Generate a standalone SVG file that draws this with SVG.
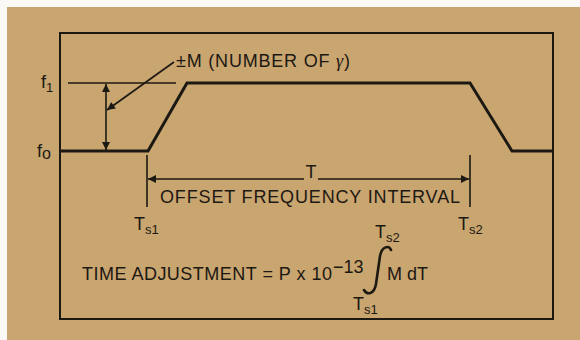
<svg xmlns="http://www.w3.org/2000/svg" width="580" height="340" viewBox="0 0 580 340">
  <defs>
    <style>
      .t { font-family: "Liberation Sans", Arial, sans-serif; fill: #1c1812; font-size: 18px; }
      .sub { font-size: 13px; }
      .thin { stroke: #1c1812; stroke-width: 1.6; fill: none; }
      .thick { stroke: #1c1812; stroke-width: 3; fill: none; stroke-linejoin: miter; }
    </style>
    <marker id="ah2" viewBox="0 0 10 10" refX="10" refY="5" markerWidth="14" markerHeight="8" markerUnits="userSpaceOnUse" orient="auto-start-reverse">
      <path d="M0,0 L10,5 L0,10 z" fill="#1c1812"/>
    </marker>
  </defs>
  <rect x="0" y="0" width="580" height="340" fill="#fbf9f6"/>
  <rect x="7" y="7" width="573" height="333" fill="#c9a570"/>

  <g id="frame">
    <rect x="60" y="33" width="493" height="286" fill="none" stroke="#1c1812" stroke-width="2"/>
  </g>

  <g id="signal">
    <line class="thin" x1="68" y1="83" x2="176" y2="83"/>
    <polyline class="thick" points="60,151 148,151 187,83 470,83 512,151 553,151"/>
  </g>

  <g id="connectors">
    <line class="thin" x1="106" y1="84" x2="106" y2="150" marker-start="url(#ah2)" marker-end="url(#ah2)"/>
    <line class="thin" x1="174" y1="62" x2="107" y2="110" marker-end="url(#ah2)"/>
    <line class="thin" x1="147" y1="155" x2="147" y2="207"/>
    <line class="thin" x1="470" y1="155" x2="470" y2="207"/>
    <line class="thin" x1="148" y1="179" x2="304" y2="179" marker-start="url(#ah2)"/>
    <line class="thin" x1="318" y1="179" x2="469" y2="179" marker-end="url(#ah2)"/>
  </g>

  <g id="labels">
    <text class="t" x="41" y="88">f<tspan class="sub" dy="4">1</tspan></text>
    <text class="t" x="37" y="157">f<tspan font-size="16" dy="2">o</tspan></text>
    <text class="t" x="176" y="67" textLength="174" lengthAdjust="spacing">±M (NUMBER OF <tspan font-family="Liberation Serif, serif" font-style="italic">γ</tspan>)</text>
    <text class="t" x="311" y="178" text-anchor="middle">T</text>
    <text class="t" x="160" y="203" textLength="300" lengthAdjust="spacing">OFFSET FREQUENCY INTERVAL</text>
    <text class="t" x="134" y="230">T<tspan class="sub" dy="4">s1</tspan></text>
    <text class="t" x="458" y="230">T<tspan class="sub" dy="4">s2</tspan></text>
  </g>

  <g id="formula">
    <text class="t" x="82" y="280" textLength="250" lengthAdjust="spacing">TIME ADJUSTMENT = P x 10</text>
    <text class="t" x="333" y="273" font-size="15">−13</text>
    <path d="M 391,250 C 389,245 382,246 380,256 L 376,284 C 374,295 367,295 364,290" fill="none" stroke="#1c1812" stroke-width="2.6" stroke-linecap="round"/>
    <text class="t" x="387" y="280">M dT</text>
    <text class="t" x="375" y="238">T<tspan class="sub" dy="4">s2</tspan></text>
    <text class="t" x="353" y="310">T<tspan class="sub" dy="4">s1</tspan></text>
  </g>
</svg>
